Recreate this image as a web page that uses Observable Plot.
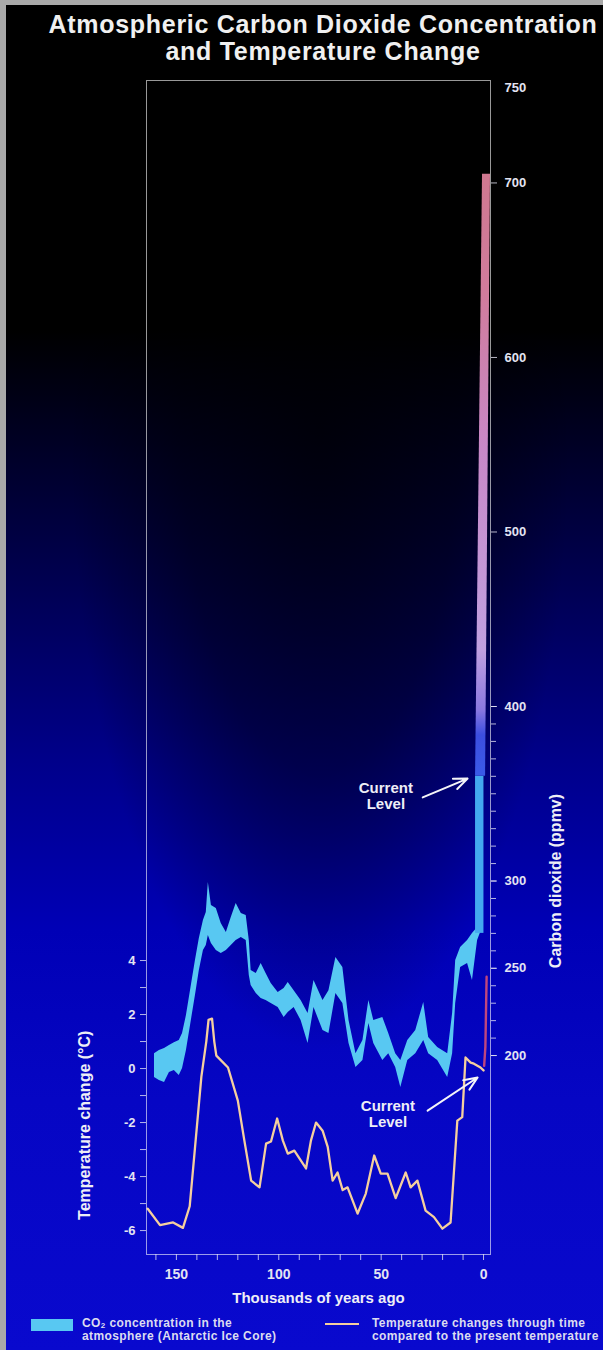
<!DOCTYPE html>
<html>
<head>
<meta charset="utf-8">
<script src="https://cdn.jsdelivr.net/npm/d3@7"></script>
<script src="https://cdn.jsdelivr.net/npm/@observablehq/plot@0.6"></script>
<style>
  html, body { margin: 0; padding: 0; }
  body {
    width: 603px; height: 1350px; overflow: hidden;
    font-family: "Liberation Sans", Arial, sans-serif; color: #ececf4;
    background:
      radial-gradient(ellipse 250px 620px at 320px 430px, rgba(0,0,0,0.7) 0%, rgba(0,0,0,0.45) 55%, rgba(0,0,0,0) 100%),
      linear-gradient(to bottom, #000 0px, #000 330px, #00004a 560px, #00008a 760px, #0000b6 930px, #0606c4 1100px, #0909ce 1350px);
  }
  #page { position: relative; width: 603px; height: 1350px; }
  #title { position: absolute; left: 44px; width: 558px; top: 11px; text-align: center;
           font-weight: bold; font-size: 25px; line-height: 27px; letter-spacing: 0.7px; color: #f0f0f0; }
  #chart { position: absolute; left: 0; top: 70px; }
  .bl { position: absolute; left: 0; top: 0; width: 6px; height: 1350px; background: #a9a9a9; }
  .bt { position: absolute; left: 0; top: 0; width: 603px; height: 5px; background: #a9a9a9; }
  .lg { position: absolute; font-size: 12px; font-weight: bold; line-height: 13px; letter-spacing: 0.4px; color: #dcdcf0; white-space: nowrap; }
  .lg sub { font-size: 8px; vertical-align: -1px; line-height: 0; }
  .sw { position: absolute; }
</style>
</head>
<body>
<div id="page">
  <div class="bt"></div>
  <div class="bl"></div>
  <div id="title">Atmospheric Carbon Dioxide Concentration<br>and Temperature Change</div>
  <div id="chart"></div>
  <div class="sw" id="sw1" style="left:31px; top:1319px; width:42px; height:12px;"></div>
  <div class="lg" style="left:82px; top:1317px;">CO<sub>2</sub> concentration in the<br>atmosphere (Antarctic Ice Core)</div>
  <div class="sw" id="sw2" style="left:325px; top:1323px; width:34px; height:2px;"></div>
  <div class="lg" style="left:372px; top:1317px;">Temperature changes through time<br>compared to the present temperature</div>
</div>
<script>
// ---------- data ----------
// CO2 (ppmv) from Antarctic ice core, band upper / lower edge, by thousands of years ago
const co2Kyr  = [160.7,158.3,155.8,153.4,151.0,148.6,147.0,145.1,142.7,140.7,138.8,136.8,135.4,134.4,132.9,130.5,128.1,125.6,123.2,120.8,118.3,115.9,114.4,113.5,111.0,108.6,106.2,103.7,100.3,97.4,95.4,92.5,89.1,85.7,82.8,78.4,75.5,72.1,68.7,65.7,62.3,58.9,56.0,53.6,49.2,46.3,42.9,40.4,37.0,33.1,29.2,26.8,22.4,17.5,15.1,13.6,11.2,7.8,5.4,2.9,0.5];
const co2High = [201.1,202.9,204.0,205.7,207.4,208.6,212.6,222.9,240.1,254.4,267.0,277.4,282.0,299.1,286.0,284.2,275.6,270.5,279.1,287.1,281.4,280.2,265.9,248.7,247.0,252.7,247.0,241.3,236.1,238.4,241.8,237.2,231.5,224.1,243.0,231.5,237.2,256.2,250.4,220.1,201.1,208.6,231.5,220.1,221.8,212.6,201.1,197.1,208.6,214.3,230.4,210.3,204.6,201.1,224.1,254.4,261.9,265.9,269.9,273.4,277.4];
const co2Low  = [187.4,185.7,184.5,190.3,191.4,188.5,192.6,202.9,220.1,234.4,248.7,260.2,263.0,268.8,264.2,260.2,258.5,260.2,263.0,265.9,267.6,265.9,245.8,240.1,235.5,232.7,231.5,229.8,227.5,221.8,224.6,227.5,220.1,206.9,227.5,214.3,212.6,235.5,229.8,206.9,193.1,197.1,218.3,206.9,197.1,201.1,193.1,181.7,197.1,201.1,208.6,201.1,197.1,187.4,201.1,229.8,250.4,252.7,243.0,265.9,273.4];

// Modern (industrial) CO2 rise up to the current level
const modernCo2 = [{from: 270, to: 360}];
// Projected CO2 (future) above the current level
const projPpm   = [360, 705];
const projLeft  = [3.9, 0.5];
const projRight = [-1.0, -3.4];

// Temperature change (°C) compared to present
const tempKyr = [164,158,151.6,146.8,143.5,141,137.8,135.4,134.3,132.6,131.5,130.5,124.8,120,116.8,113.5,109.4,106.2,103.8,100.8,98,95.6,92.4,86.7,84.3,81.8,78.6,76.1,73.7,71.3,68.8,66.4,61.5,57.5,53.4,50.2,46.9,42.9,38,35.6,32.3,28.3,24.2,20.1,16.1,12.8,10.4,8.8,6.3,4.7,1.5,0];
const tempVal = [-5.19,-5.8,-5.7,-5.9,-5.1,-3.0,-0.3,1.0,1.8,1.85,1.0,0.48,0.04,-1.19,-2.67,-4.15,-4.4,-2.78,-2.7,-1.85,-2.67,-3.15,-3.04,-3.7,-2.67,-2.0,-2.3,-2.9,-4.15,-3.85,-4.5,-4.4,-5.37,-4.63,-3.22,-3.89,-3.89,-4.8,-3.85,-4.4,-4.15,-5.26,-5.5,-5.93,-5.7,-1.93,-1.8,0.41,0.22,0.18,0.04,-0.07];
// Projected temperature (future)
const tempProjKyr = [-0.3, -0.9, -1.5];
const tempProjVal = [0.1, 0.8, 3.4];

// Axis ticks
const xMinorTicks = d3.range(0, 161, 10);
const xLabelTicks = [0, 50, 100, 150];
const co2MinorTicks = d3.range(200, 401, 10);
const co2LabelTicks = [200, 250, 300, 400, 500, 600, 700];
const co2TopTick = [750];
const tempMinorTicks = d3.range(-6, 5, 1);
const tempLabelTicks = [-6, -4, -2, 0, 2, 4];

// Annotations ("Current Level")
const annKyr = [47.7, 46.7];
const annLevel = [{scale: "co2", v: 349}, {scale: "temp", v: -1.67}];
const arrowFromKyr = [29.7, 27.3];
const arrowToKyr = [7.8, 2.9];
const arrowFrom = [{scale: "co2", v: 347.9}, {scale: "temp", v: -1.56}];
const arrowTo = [{scale: "co2", v: 358.7}, {scale: "temp", v: -0.33}];

// Axis labels
const xLabel = "Thousands of years ago";
const co2Label = "Carbon dioxide (ppmv)";
const tempLabel = "Temperature change (°C)";

// ---------- colours ----------
const bandColor = "#58c8f2";
const modernColor = "#44a8f0";
const tempColor = "#f5cf9e";
const tempProjColor = "#e25272";
document.getElementById("sw1").style.background = bandColor;
document.getElementById("sw2").style.background = tempColor;

// ---------- shared scale: temperature drawn against the CO2 axis ----------
const tempZeroPpm = 192.55, ppmPerDeg = 15.473;
const toPpm = t => tempZeroPpm + ppmPerDeg * t;
const lvl = d => d.scale === "temp" ? toPpm(d.v) : d.v;

const co2 = co2Kyr.map((k, i) => ({kyr: k, hi: co2High[i], lo: co2Low[i]}));
const proj = projPpm.map((p, i) => ({ppm: p, left: projLeft[i], right: projRight[i]}));
const temp = tempKyr.map((k, i) => ({kyr: k, t: tempVal[i]}));
const tempProj = tempProjKyr.map((k, i) => ({kyr: k, t: tempProjVal[i]}));
const anns = annKyr.map((k, i) => ({kyr: k, y: lvl(annLevel[i]), text: "Current\nLevel"}));
const arrows = arrowFromKyr.map((k, i) => ({x1: k, y1: lvl(arrowFrom[i]), x2: arrowToKyr[i], y2: lvl(arrowTo[i])}));

const defs = () => {
  const d = d3.create("svg:defs");
  const g = d.append("linearGradient").attr("id", "projGrad")
    .attr("x1", 0).attr("y1", 1).attr("x2", 0).attr("y2", 0);
  [[0, "#3a5ae8"], [0.068, "#3c4ee0"], [0.11, "#8a78e0"], [0.21, "#c0a0e0"], [0.54, "#c888c8"], [0.8, "#d07c9c"], [1, "#d07890"]]
    .forEach(([o, c]) => g.append("stop").attr("offset", o).attr("stop-color", c));
  return d.node();
};

const axisColor = "#e4e4f2";
const chart = Plot.plot({
  width: 603,
  height: 1240,
  marginTop: 10,
  marginBottom: 56,
  marginLeft: 146,
  marginRight: 113,
  style: {background: "none", color: axisColor, fontFamily: "'Liberation Sans', Arial, sans-serif"},
  x: {domain: [164.6, -3.4], label: null},
  y: {domain: [86, 758.7], label: null},
  marks: [
    defs,
    Plot.areaY(co2, {x: "kyr", y1: "lo", y2: "hi", fill: bandColor}),
    Plot.rect(modernCo2, {x1: 3.9, x2: -0.2, y1: "from", y2: "to", fill: modernColor}),
    Plot.areaX(proj, {y: "ppm", x1: "left", x2: "right", fill: "url(#projGrad)"}),
    Plot.line(temp, {x: "kyr", y: d => toPpm(d.t), stroke: tempColor, strokeWidth: 2.3, strokeLinejoin: "round"}),
    Plot.line(tempProj, {x: "kyr", y: d => toPpm(d.t), stroke: tempProjColor, strokeWidth: 2.4, strokeOpacity: 0.85}),
    Plot.frame({stroke: "white", strokeOpacity: 0.6}),
    // x axis
    Plot.axisX({anchor: "bottom", ticks: xMinorTicks, tickSize: 6, tickFormat: () => "", label: null, strokeOpacity: 0.8}),
    Plot.axisX({anchor: "bottom", ticks: xLabelTicks, tickSize: 0, tickPadding: 15, fontSize: 14, fontWeight: "bold", label: null}),
    // right CO2 axis
    Plot.axisY({anchor: "right", ticks: co2MinorTicks, tickSize: 5, tickFormat: () => "", label: null, strokeOpacity: 0.8}),
    Plot.axisY({anchor: "right", ticks: co2LabelTicks, tickSize: 6, tickPadding: 8, fontSize: 13, fontWeight: "bold", label: null, strokeOpacity: 0.8}),
    Plot.axisY({anchor: "right", ticks: co2TopTick, tickSize: 0, tickPadding: 14, dy: -8, fontSize: 13, fontWeight: "bold", label: null}),
    // left temperature axis
    Plot.axisY({anchor: "left", ticks: tempMinorTicks.map(toPpm), tickSize: 6, tickFormat: () => "", label: null, strokeOpacity: 0.8}),
    Plot.axisY({anchor: "left", ticks: tempLabelTicks.map(toPpm), tickSize: 0, tickPadding: 11, fontSize: 13, fontWeight: "bold", label: null,
                tickFormat: d => String(Math.round((d - tempZeroPpm) / ppmPerDeg))}),
    // axis titles
    Plot.text([xLabel], {frameAnchor: "bottom", dy: 48, text: d => d, fontSize: 15, fontWeight: "bold", fill: "#eeeef6"}),
    Plot.text([co2Label], {frameAnchor: "right", textAnchor: "middle", y: 300, dx: 65, rotate: -90, text: d => d, fontSize: 16, fontWeight: "bold", fill: "#eeeef6"}),
    Plot.text([tempLabel], {frameAnchor: "left", textAnchor: "middle", y: toPpm(-2.1), dx: -62, rotate: -90, text: d => d, fontSize: 16, fontWeight: "bold", fill: "#eeeef6"}),
    // annotations
    Plot.text(anns, {x: "kyr", y: "y", text: "text", fill: "#eeeef6", fontSize: 15, fontWeight: "bold", lineHeight: 1.07}),
    Plot.arrow(arrows, {x1: "x1", y1: "y1", x2: "x2", y2: "y2", stroke: "#f4f4f8", strokeWidth: 2, headLength: 11, headAngle: 45})
  ]
});
document.getElementById("chart").append(chart);
</script>
</body>
</html>
